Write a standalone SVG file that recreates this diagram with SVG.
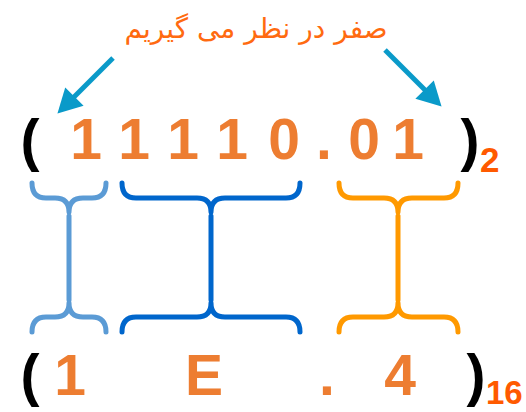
<svg xmlns="http://www.w3.org/2000/svg" width="526" height="412" viewBox="0 0 526 412">
  <defs>
    <style>
      .digit { font-family: "Liberation Sans", Arial, sans-serif; font-weight: bold; font-size: 57px; fill: #ED7D31; text-anchor: middle; }
      .paren { font-family: "Liberation Sans", Arial, sans-serif; font-weight: bold; font-size: 57px; fill: #000; text-anchor: middle; }
      .base { font-family: "Liberation Sans", Arial, sans-serif; font-weight: bold; fill: #FF5A00; }
      .note { font-family: "DejaVu Sans", "Noto Sans", sans-serif; font-size: 28px; fill: #FF6A10; text-anchor: middle; }
      .brace { fill: none; stroke-width: 5; stroke-linecap: round; stroke-linejoin: round; }
      .arrow { stroke: #0A9AC9; stroke-width: 5; fill: none; }
    </style>
    <marker id="head" markerUnits="userSpaceOnUse" markerWidth="26" markerHeight="26" viewBox="0 0 24 26" refX="2" refY="13" orient="auto">
      <path d="M0,0 L24,13 L0,26 Z" fill="#0A9AC9"/>
    </marker>
  </defs>

  <!-- caption -->
  <g id="caption">
    <text class="note" x="256" y="38">صفر در نظر می گیریم</text>
  </g>

  <!-- binary number -->
  <g id="binary">
    <text class="paren" x="30" y="160">(</text>
    <text class="digit" x="86" y="159">1</text>
    <text class="digit" x="134" y="159">1</text>
    <text class="digit" x="183" y="159">1</text>
    <text class="digit" x="232" y="159">1</text>
    <text class="digit" x="284" y="159">0</text>
    <text class="digit" x="324" y="159">.</text>
    <text class="digit" x="364" y="159">0</text>
    <text class="digit" x="408" y="159">1</text>
    <text class="paren" x="470" y="160">)</text>
    <text class="base" x="480" y="172" font-size="35">2</text>
  </g>

  <!-- hexadecimal number -->
  <g id="hex">
    <text class="paren" x="30" y="395">(</text>
    <text class="digit" x="70" y="395">1</text>
    <text class="digit" x="204" y="395">E</text>
    <text class="digit" x="327" y="395">.</text>
    <text class="digit" x="400" y="395">4</text>
    <text class="paren" x="476" y="395">)</text>
    <text class="base" x="486" y="404" font-size="33">16</text>
  </g>

  <!-- braces grouping the bits -->
  <g id="group-int-high" class="brace" stroke="#5B9BD5">
    <path d="M32,183 Q32,198 46,198 L55,198 Q69,198 69,212 Q69,198 83,198 L92,198 Q106,198 106,183"/>
    <path d="M69,216 L69,300"/>
    <path d="M32,332 Q32,317 46,317 L55,317 Q69,317 69,303 Q69,317 83,317 L92,317 Q106,317 106,332"/>
  </g>
  <g id="group-int-low" class="brace" stroke="#0066CC">
    <path d="M122,183 Q122,198 136,198 L197,198 Q211,198 211,212 Q211,198 225,198 L286,198 Q300,198 300,183"/>
    <path d="M211,216 L211,300"/>
    <path d="M122,332 Q122,317 136,317 L197,317 Q211,317 211,303 Q211,317 225,317 L286,317 Q300,317 300,332"/>
  </g>
  <g id="group-frac" class="brace" stroke="#FF9900">
    <path d="M339,183 Q339,198 353,198 L384,198 Q398,198 398,212 Q398,198 412,198 L444,198 Q458,198 458,183"/>
    <path d="M398,216 L398,300"/>
    <path d="M339,332 Q339,317 353,317 L384,317 Q398,317 398,303 Q398,317 412,317 L444,317 Q458,317 458,332"/>
  </g>

  <!-- connectors from caption to padded positions -->
  <g id="connectors">
    <path class="arrow" d="M113,58 L73,98" marker-end="url(#head)"/>
    <path class="arrow" d="M385,50 L426,91" marker-end="url(#head)"/>
  </g>
</svg>
